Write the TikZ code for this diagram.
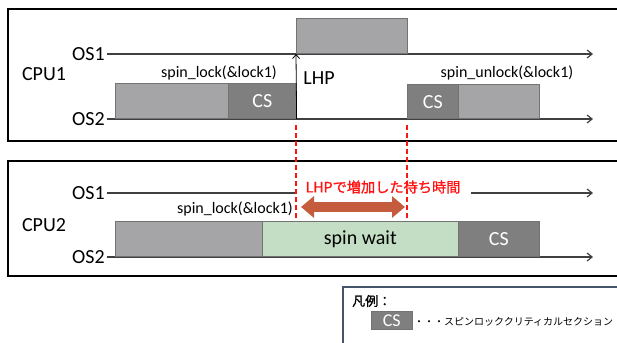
\documentclass[tikz,border=0pt]{standalone}
\usepackage{fontspec}
\setmainfont{Carlito}
\newfontfamily\jpfont{Noto Sans CJK JP}
\newfontfamily\jpbold[FakeBold=1.2]{Noto Sans CJK JP}
\usetikzlibrary{arrows.meta}
\definecolor{lgray}{RGB}{165,165,168}
\definecolor{dgray}{RGB}{127,127,127}
\definecolor{wgreen}{RGB}{195,222,196}
\definecolor{abrown}{RGB}{197,92,62}
\definecolor{legblue}{RGB}{68,84,106}
\definecolor{redl}{RGB}{255,20,20}
\begin{document}
\begin{tikzpicture}[x=1pt,y=-1pt,
  frame/.style={draw=black, line width=1.8pt},
  tl/.style={draw=black!75, line width=1.2pt, -{Straight Barb[length=5pt,width=8pt]}},
  big/.style={font=\fontsize{20}{22}\selectfont, inner sep=2pt},
  small/.style={font=\fontsize{16}{18}\selectfont, inner sep=1pt},
  blk/.style={draw=black!55, line width=0.6pt, anchor=south west, inner sep=0pt},
  gbox/.style={blk, fill=lgray},
  csbox/.style={blk, fill=dgray, text=white, font=\fontsize{20}{22}\selectfont},
  swbox/.style={blk, fill=wgreen, font=\fontsize{20}{22}\selectfont},
  rdash/.style={draw=redl, line width=1.4pt, dash pattern=on 5pt off 3pt},
]
\useasboundingbox (0,0) rectangle (617,342);
\fill[white] (0,0) rectangle (617,342);
% frames
\draw[frame] (8,9) rectangle (650,141);
\draw[frame] (8,161) rectangle (650,276);
% ---------------- CPU1
\node[big] (cpu1) at (44,74) {CPU1};
\node[big, anchor=east] (os1a) at (107,54) {OS1};
\node[big, anchor=east] (os2a) at (107,119) {OS2};
\coordinate (e1) at (593,54);
\coordinate (e2) at (593,119);
\draw[tl] (os1a.east) -- (e1);
\draw[tl] (os2a.east) -- (e2);
\node[gbox, minimum width=113pt, minimum height=35pt] (a1) at (115,119) {};
\node[csbox, minimum width=68pt, minimum height=35pt] (cs1) at (228,119) {CS};
\node[gbox, minimum width=111pt, minimum height=35pt] (hp) at (296,54) {};
\node[csbox, minimum width=51pt, minimum height=34pt] (cs2) at (407,119) {CS};
\node[gbox, minimum width=81pt, minimum height=34pt] (a2) at (458,119) {};
\draw[black, line width=0.8pt, -{Straight Barb[length=4pt,width=7pt]}] (cs1.south east) -- (hp.south west);
\node[small] (sl1) at (219,73) {spin\_lock(\&lock1)};
\node[small] (su1) at (507,73) {spin\_unlock(\&lock1)};
\node[big] (lhp) at (319,78) {LHP};
% ---------------- CPU2
\node[big] (cpu2) at (44,225) {CPU2};
\node[big, anchor=east] (os1b) at (107,193) {OS1};
\node[big, anchor=east] (os2b) at (107,257) {OS2};
\node[font=\jpbold\fontsize{14.2}{16}\selectfont, text=redl, inner sep=0pt] (wait) at (383,187) {LHPで増加した待ち時間};
\coordinate (g1) at (296,193);
\coordinate (g2) at (471,193);
\coordinate (e3) at (593,193);
\coordinate (e4) at (593,257);
\draw[draw=black!75, line width=1.2pt] (os1b.east) -- (g1);
\draw[tl] (g2) -- (e3);
\draw[tl] (os2b.east) -- (e4);
\node[gbox, minimum width=147pt, minimum height=35pt] (b1) at (115,257) {};
\node[swbox, minimum width=196pt, minimum height=35pt] (sw) at (262,257) {spin wait};
\node[csbox, minimum width=81pt, minimum height=35pt] (cs3) at (458,257) {CS};
\node[small] (sl2) at (235,209) {spin\_lock(\&lock1)};
% double arrow
\coordinate (da) at (301,207);
\coordinate (db) at (405,207);
\draw[abrown, line width=10pt, {Triangle[length=13pt,width=21pt]}-{Triangle[length=13pt,width=21pt]}] (da) -- (db);
% red dashed
\coordinate (r1a) at (296,125);
\coordinate (r1b) at (296,219);
\coordinate (r2a) at (407,125);
\coordinate (r2b) at (407,219);
\draw[rdash] (r1a) -- (r1b);
\draw[rdash] (r2a) -- (r2b);
% ---------------- legend
\draw[draw=legblue, line width=1.4pt] (343,360) -- (343,287) -- (650,287);
\node[font=\jpbold\fontsize{13}{15}\selectfont, anchor=west, inner sep=0pt] (leg) at (352,301) {凡例：};
\node[csbox, font=\fontsize{18}{20}\selectfont, minimum width=41pt, minimum height=18pt] (lcs) at (371,330) {CS};
\node[font=\jpfont\fontsize{10}{12}\selectfont, anchor=west, inner sep=0pt] (ltxt) at (414,322) {・・・スピンロッククリティカルセクション};
\end{tikzpicture}
\end{document}
